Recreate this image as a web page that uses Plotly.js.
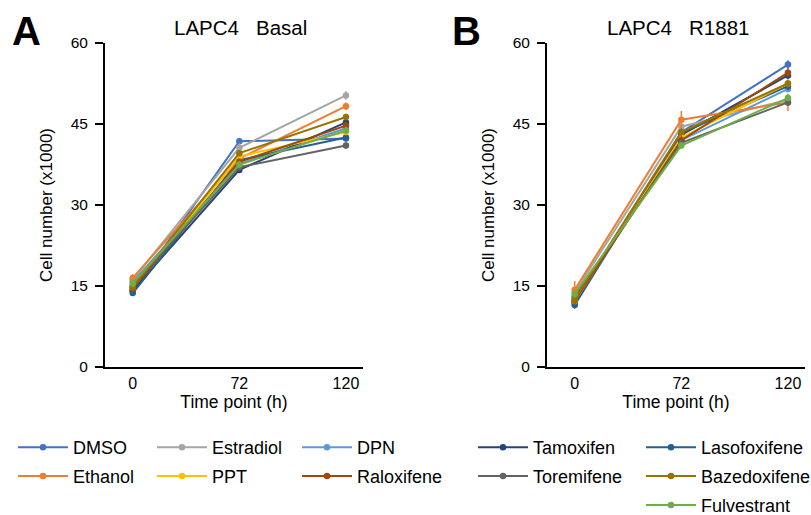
<!DOCTYPE html>
<html><head><meta charset="utf-8">
<script src="https://cdn.plot.ly/plotly-3.0.1.min.js"></script>
<style>html,body{margin:0;padding:0;background:#fff}#c{width:811px;height:515px}</style>
</head><body><div id="c"></div>
<script>
// ---- data ----
const timePoints = ['0', '72', '120'];
const treatments = ['DMSO','Ethanol','Estradiol','PPT','DPN','Raloxifene','Tamoxifen','Toremifene','Lasofoxifene','Bazedoxifene','Fulvestrant'];
// Panel A: LAPC4 Basal (cell number x1000)
const basalT0   = [14.0, 16.5, 16.2, 14.6, 15.8, 14.5, 14.2, 15.0, 13.7, 14.8, 15.5];
const basalT72  = [41.8, 38.6, 40.6, 39.0, 37.6, 38.0, 36.5, 37.0, 38.3, 39.6, 37.5];
const basalT120 = [42.3, 48.3, 50.3, 43.5, 44.2, 44.7, 45.3, 41.0, 42.5, 46.3, 43.8];
const basalErr  = [0.6, 0.7, 0.8, 0.5, 0.5, 0.6, 0.6, 0.6, 0.5, 0.6, 0.7];
// Panel B: LAPC4 R1881
const r1881T0   = [11.8, 14.3, 13.8, 12.2, 12.8, 12.3, 12.0, 13.0, 11.5, 12.5, 13.5];
const r1881T72  = [43.5, 45.8, 44.5, 42.5, 42.0, 42.0, 43.0, 41.5, 43.3, 43.5, 41.0];
const r1881T120 = [56.0, 49.0, 49.5, 52.5, 51.5, 54.5, 54.0, 49.0, 52.0, 52.5, 49.8];
const r1881Err  = [0.8, 1.6, 0.6, 0.6, 0.6, 0.8, 0.7, 0.6, 0.7, 0.7, 0.6];

// ---- styles ----
const colors = {DMSO:'#4472C4', Ethanol:'#ED7D31', Estradiol:'#A5A5A5', PPT:'#FFC000', DPN:'#5B9BD5',
  Raloxifene:'#9E480E', Tamoxifen:'#264478', Toremifene:'#636363', Lasofoxifene:'#255E91',
  Bazedoxifene:'#997300', Fulvestrant:'#70AD47'};
const legendOf = {DMSO:'legend', Ethanol:'legend', Estradiol:'legend2', PPT:'legend2', DPN:'legend3',
  Raloxifene:'legend3', Tamoxifen:'legend4', Toremifene:'legend4', Lasofoxifene:'legend5',
  Bazedoxifene:'legend5', Fulvestrant:'legend5'};
const drawOrder = ['DMSO','Estradiol','DPN','Tamoxifen','Lasofoxifene','Ethanol','PPT','Raloxifene','Toremifene','Bazedoxifene','Fulvestrant'];

const traces = [];
function addPanel(t0, t72, t120, err, xa, ya, show) {
  drawOrder.forEach(name => {
    const i = treatments.indexOf(name);
    traces.push({
      type: 'scatter', mode: 'lines+markers', name: name,
      x: timePoints, y: [t0[i], t72[i], t120[i]],
      xaxis: xa, yaxis: ya,
      line: {color: colors[name], width: 2},
      marker: {color: colors[name], size: 6.5, symbol: 'circle'},
      error_y: {type: 'constant', value: err[i], color: colors[name], thickness: 1.5, width: 0},
      showlegend: show, legend: legendOf[name], legendgroup: name
    });
  });
}
addPanel(basalT0, basalT72, basalT120, basalErr, 'x', 'y', true);
addPanel(r1881T0, r1881T72, r1881T120, r1881Err, 'x2', 'y2', false);

const W = 811, H = 515;
const font = 'Arial, "Liberation Sans", sans-serif';
const yAx = (anchor) => ({
  range: [0, 60], tickvals: [0, 15, 30, 45, 60], showgrid: false, zeroline: false, automargin: false,
  showline: true, linecolor: '#000', linewidth: 2, ticks: 'outside', ticklen: 8, tickwidth: 2, tickcolor: '#000',
  ticklabelstandoff: 4,
  tickfont: {size: 15.5, color: '#000', family: font}, anchor: anchor,
  domain: [1 - 367 / H, 1 - 43 / H],
  title: {text: 'Cell number (x1000)', font: {size: 17, color: '#000', family: font}, standoff: 14}
});
const xAx = (dom, anchor) => ({
  type: 'category', range: [-0.26, 2.16], showgrid: false, zeroline: false, automargin: false,
  showline: true, linecolor: '#000', linewidth: 2, ticks: 'outside', ticklen: 1, tickcolor: 'rgba(0,0,0,0)', anchor: anchor,
  tickfont: {size: 16, color: '#000', family: font}, domain: dom,
  title: {text: 'Time point (h)', font: {size: 17.5, color: '#000', family: font}, standoff: 4}
});
const leg = (x) => ({x: x / W, y: 1 - 429 / H, xanchor: 'left', yanchor: 'top', orientation: 'v',
  font: {size: 18, color: '#000', family: font}, tracegroupgap: 2.5, bgcolor: 'rgba(0,0,0,0)', itemwidth: 50});

const layout = {
  width: W, height: H, margin: {l: 0, r: 0, t: 0, b: 0, autoexpand: false},
  paper_bgcolor: '#fff', plot_bgcolor: '#fff', showlegend: true,
  xaxis: xAx([105 / W, 363 / W], 'y'), yaxis: yAx('x'),
  xaxis2: xAx([547 / W, 805 / W], 'y2'), yaxis2: yAx('x2'),
  legend: leg(13), legend2: leg(152), legend3: leg(297), legend4: leg(473), legend5: leg(641),
  annotations: [
    {text: 'LAPC4\u00a0\u00a0\u00a0Basal', x: 241 / W, y: 1 - 27 / H, xref: 'paper', yref: 'paper', xanchor: 'center', yanchor: 'middle', showarrow: false, font: {size: 20.5, color: '#000', family: font}},
    {text: 'LAPC4\u00a0\u00a0\u00a0R1881', x: 678 / W, y: 1 - 27 / H, xref: 'paper', yref: 'paper', xanchor: 'center', yanchor: 'middle', showarrow: false, font: {size: 20.5, color: '#000', family: font}},
    {text: '<b>A</b>', x: 26 / W, y: 1 - 31 / H, xref: 'paper', yref: 'paper', xanchor: 'center', yanchor: 'middle', showarrow: false, font: {size: 40, color: '#000', family: font}},
    {text: '<b>B</b>', x: 466 / W, y: 1 - 31 / H, xref: 'paper', yref: 'paper', xanchor: 'center', yanchor: 'middle', showarrow: false, font: {size: 40, color: '#000', family: font}}
  ]
};
Plotly.newPlot('c', traces, layout, {displayModeBar: false, staticPlot: true});
</script></body></html>
